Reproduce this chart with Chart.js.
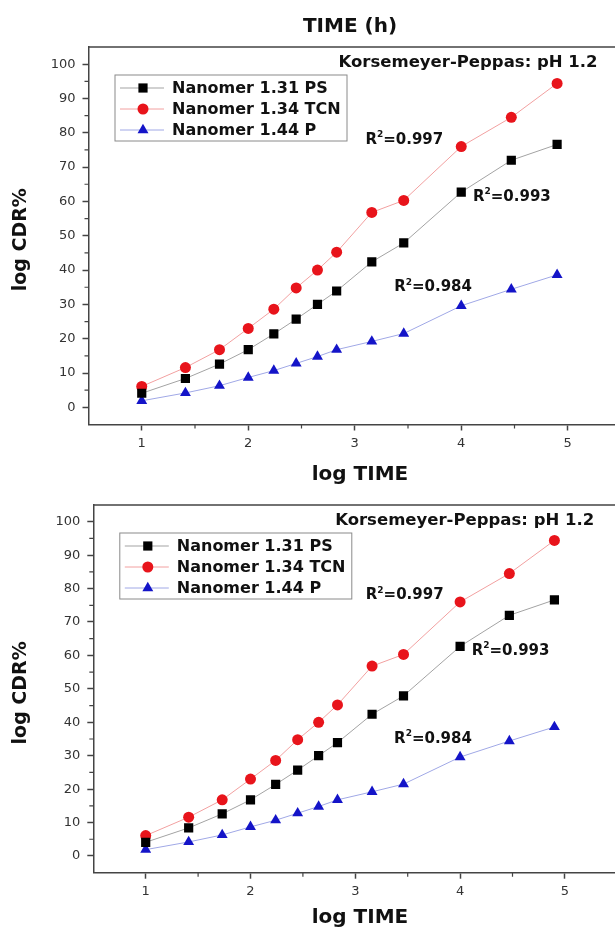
<!DOCTYPE html>
<html>
<head>
<meta charset="utf-8">
<title>Korsemeyer-Peppas: pH 1.2</title>
<script src="https://cdn.jsdelivr.net/npm/chart.js@4.4.1/dist/chart.umd.min.js"></script>
<style>
  html, body { margin: 0; padding: 0; background: #fff; overflow: hidden; }
  body { width: 615px; height: 929px; position: relative; }
  canvas { position: absolute; left: 0; }
  #topChart { top: 0; }
  #bottomChart { top: 490px; }
</style>
</head>
<body>
<canvas id="topChart" width="640" height="490"></canvas>
<canvas id="bottomChart" width="640" height="439"></canvas>
<script>
// release data (same set plotted in both panels)
const logTime = [1, 1.41, 1.73, 2, 2.24, 2.45, 2.65, 2.83, 3.16, 3.46, 4, 4.47, 4.9];
const cdrPS  = [4.1, 8.4, 12.6, 16.8, 21.4, 25.7, 30.0, 33.9, 42.4, 47.9, 62.7, 72.0, 76.6];
const cdrTCN = [6.1, 11.6, 16.8, 23.0, 28.6, 34.8, 40.0, 45.2, 56.8, 60.3, 76.0, 84.5, 94.4];
const cdrP   = [1.9, 4.2, 6.3, 8.7, 10.7, 12.8, 14.8, 16.8, 19.2, 21.5, 29.6, 34.4, 38.6];
const seriesNames = ['Nanomer 1.31 PS', 'Nanomer 1.34 TCN', 'Nanomer 1.44 P'];

// axis ticks
const xMinor = [1.5, 2.5, 3.5, 4.5];
const yMinor = [5, 15, 25, 35, 45, 55, 65, 75, 85, 95];

// fit labels, placed in data units (x, y)
const r2Values = ['0.997', '0.993', '0.984'];
const r2Anchors = [[3.10, 78], [4.11, 61.4], [3.37, 35]];

const FONT = '"DejaVu Sans", "Liberation Sans", Arial, sans-serif';
const AXIS = '#444';

const seriesStyle = [
  { line: '#a3a3a3', fill: '#000000', point: 'rect', r: 6.5 },
  { line: '#f2a0a0', fill: '#e8141b', point: 'circle', r: 5.5 },
  { line: '#a0a8e6', fill: '#1414c8', point: 'triangle', r: 6.3 }
];

function makeData(values) {
  return logTime.map((t, i) => ({ x: t, y: values[i] }));
}

const decorPlugin = {
  id: 'decor',
  afterDraw(chart, args, opts) {
    const { ctx, chartArea: a, scales: { x, y } } = chart;
    ctx.save();

    // top and right frame lines
    ctx.strokeStyle = AXIS;
    ctx.lineWidth = 1.5;
    ctx.beginPath();
    ctx.moveTo(a.left, a.top);
    ctx.lineTo(a.right, a.top);
    ctx.lineTo(a.right, a.bottom);
    ctx.stroke();

    // minor ticks
    ctx.lineWidth = 1.2;
    ctx.beginPath();
    yMinor.forEach(v => {
      const py = y.getPixelForValue(v);
      ctx.moveTo(a.left - 4, py);
      ctx.lineTo(a.left, py);
    });
    xMinor.forEach(v => {
      const px = x.getPixelForValue(v);
      ctx.moveTo(px, a.bottom);
      ctx.lineTo(px, a.bottom + 4);
    });
    ctx.stroke();

    // legend box
    const bx = a.left + 26.5, by = a.top + 28, bw = 232, bh = 66;
    ctx.fillStyle = '#fff';
    ctx.fillRect(bx, by, bw, bh);
    ctx.strokeStyle = '#8a8a8a';
    ctx.lineWidth = 1;
    ctx.strokeRect(bx, by, bw, bh);
    ctx.font = 'bold 16px ' + FONT;
    ctx.textBaseline = 'middle';
    ctx.textAlign = 'left';
    seriesNames.forEach((name, i) => {
      const st = seriesStyle[i];
      const ry = a.top + 41 + i * 21;
      ctx.strokeStyle = st.line;
      ctx.lineWidth = 1;
      ctx.beginPath();
      ctx.moveTo(bx + 5, ry);
      ctx.lineTo(bx + 49, ry);
      ctx.stroke();
      ctx.fillStyle = st.fill;
      ctx.strokeStyle = st.fill;
      Chart.helpers.drawPoint(ctx, { pointStyle: st.point, radius: st.r, rotation: 0, borderWidth: 0 }, bx + 28, ry);
      ctx.fillStyle = '#111';
      ctx.fillText(name, bx + 57, ry + 1);
    });

    // model caption
    ctx.fillStyle = '#111';
    ctx.font = 'bold 16.5px ' + FONT;
    ctx.textAlign = 'right';
    ctx.fillText('Korsemeyer-Peppas: pH 1.2', x.getPixelForValue(5.28), y.getPixelForValue(100.3));

    // R² labels
    ctx.textAlign = 'left';
    r2Values.forEach((val, i) => {
      let px = x.getPixelForValue(r2Anchors[i][0]);
      const py = y.getPixelForValue(r2Anchors[i][1]);
      ctx.font = 'bold 15px ' + FONT;
      ctx.fillText('R', px, py);
      px += ctx.measureText('R').width;
      ctx.font = 'bold 9px ' + FONT;
      ctx.fillText('2', px, py - 5);
      px += ctx.measureText('2').width;
      ctx.font = 'bold 15px ' + FONT;
      ctx.fillText('=' + val, px, py);
    });

    // titles
    ctx.fillStyle = '#111';
    ctx.textAlign = 'center';
    if (opts.topTitle) {
      ctx.font = 'bold 20px ' + FONT;
      ctx.fillText(opts.topTitle, opts.topTitleX, opts.topTitleY);
    }
    ctx.font = 'bold 20px ' + FONT;
    ctx.fillText('log TIME', opts.xTitleX, opts.xTitleY);

    ctx.translate(21, (a.top + a.bottom) / 2 + 4);
    ctx.rotate(-Math.PI / 2);
    ctx.font = 'bold 19px ' + FONT;
    ctx.fillText('log CDR%', 0, 0);

    ctx.restore();
  }
};

function makeChart(id, L) {
  const ctx = document.getElementById(id).getContext('2d');
  const values = [cdrPS, cdrTCN, cdrP];
  return new Chart(ctx, {
    type: 'scatter',
    data: {
      datasets: values.map((v, i) => ({
        label: seriesNames[i],
        data: makeData(v),
        showLine: true,
        borderColor: seriesStyle[i].line,
        borderWidth: 1,
        pointStyle: seriesStyle[i].point,
        pointRadius: seriesStyle[i].r,
        pointHoverRadius: seriesStyle[i].r,
        pointBackgroundColor: seriesStyle[i].fill,
        pointBorderColor: seriesStyle[i].fill,
        pointBorderWidth: 0
      }))
    },
    options: {
      responsive: false,
      animation: false,
      layout: { padding: { top: L.top, right: L.right, left: 0, bottom: 0 } },
      plugins: {
        legend: { display: false },
        tooltip: { enabled: false },
        decor: L.decor
      },
      scales: {
        x: {
          type: 'linear',
          min: 0.5,
          max: 5.5,
          ticks: {
            stepSize: 0.5,
            autoSkip: false,
            maxRotation: 0,
            padding: 5,
            color: '#333',
            font: { family: FONT, size: 13 },
            callback: v => Number.isInteger(v) ? v : ''
          },
          grid: {
            drawOnChartArea: false,
            tickLength: 6,
            tickWidth: 1.5,
            tickColor: c => (Number.isInteger(c.tick.value) ? AXIS : 'rgba(0,0,0,0)')
          },
          border: { color: AXIS, width: 1.5 },
          afterFit: s => { s.height = L.xAxisH; }
        },
        y: {
          type: 'linear',
          min: -5,
          max: 105,
          ticks: {
            stepSize: 5,
            autoSkip: false,
            padding: 7,
            color: '#333',
            font: { family: FONT, size: 13 },
            callback: v => (v % 10 === 0 && v >= 0 && v <= 100 ? v : '')
          },
          grid: {
            drawOnChartArea: false,
            tickLength: 6,
            tickWidth: 1.5,
            tickColor: c => {
              const v = c.tick.value;
              return v % 10 === 0 && v >= 0 && v <= 100 ? AXIS : 'rgba(0,0,0,0)';
            }
          },
          border: { color: AXIS, width: 1.5 },
          afterFit: s => { s.width = L.yAxisW; }
        }
      }
    },
    plugins: [decorPlugin]
  });
}

makeChart('topChart', {
  top: 47, right: 19, xAxisH: 65.5, yAxisW: 88.5,
  decor: { topTitle: 'TIME (h)', topTitleX: 350, topTitleY: 27, xTitleX: 360, xTitleY: 475 }
});

makeChart('bottomChart', {
  top: 15, right: 22.7, xAxisH: 56.3, yAxisW: 93.3,
  decor: { topTitle: null, xTitleX: 360, xTitleY: 428 }
});
</script>
</body>
</html>
